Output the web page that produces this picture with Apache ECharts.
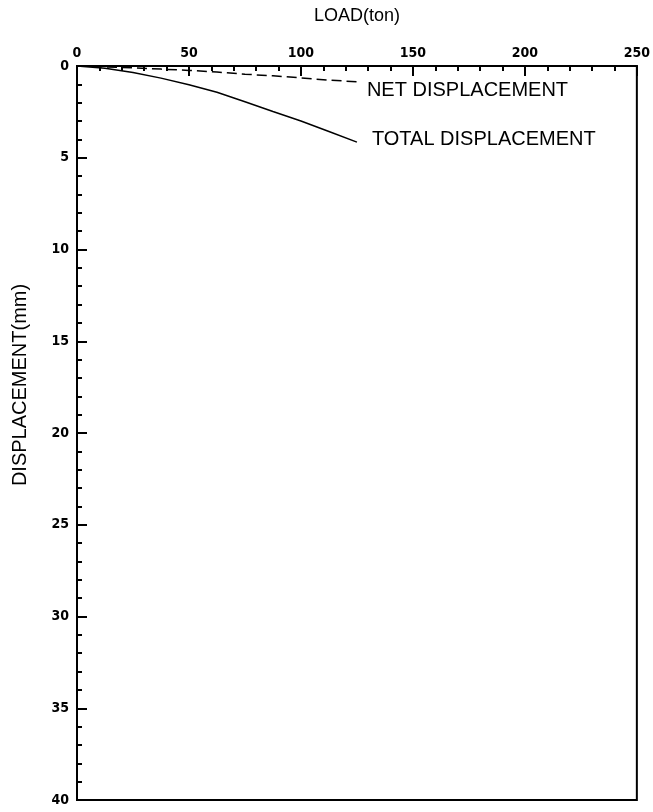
<!DOCTYPE html>
<html>
<head>
<meta charset="utf-8">
<script src="https://cdn.jsdelivr.net/npm/echarts@6/dist/echarts.min.js"></script>
<style>
html,body{margin:0;padding:0;background:#fff;}
#c{width:653px;height:812px;}
</style>
</head>
<body>
<div id="c"></div>
<script>
var loads = [0, 12.5, 25, 37.5, 50, 62.5, 75, 87.5, 100, 112.5, 125];
var totalDisp = [0, 0.12, 0.35, 0.66, 1.02, 1.43, 1.95, 2.48, 3.0, 3.57, 4.15];
var netDisp = [0, 0.05, 0.10, 0.17, 0.24, 0.33, 0.45, 0.53, 0.65, 0.77, 0.86];
var xTicks = [0, 50, 100, 150, 200, 250];
var yTicks = [0, 5, 10, 15, 20, 25, 30, 35, 40];

function pairs(xs, ys){ return xs.map(function(x,i){return [x, ys[i]];}); }

var tickFont = {fontFamily:'DejaVu Sans Condensed', fontWeight:'bold', fontSize:14, color:'#000'};
var labFont = 'Liberation Sans';

var chart = echarts.init(document.getElementById('c'), null, {renderer:'canvas'});
chart.setOption({
  backgroundColor:'#fff',
  animation:false,
  grid:{left:77, right:14, top:66, bottom:12, show:true, borderColor:'#000', borderWidth:2, containLabel:false},
  xAxis:{
    type:'value', position:'top', min:0, max:250, interval:50,
    name:'LOAD(ton)', nameLocation:'middle', nameGap:41,
    nameTextStyle:{fontFamily:labFont, fontSize:18, color:'#000'},
    axisLine:{lineStyle:{color:'#000', width:2}},
    axisTick:{inside:true, length:10, lineStyle:{color:'#000', width:2}},
    minorTick:{show:true, splitNumber:5, length:5, lineStyle:{color:'#000', width:2}},
    splitLine:{show:false},
    axisLabel:Object.assign({margin:6, formatter:function(v){return xTicks.indexOf(v)>=0? String(v):'';}}, tickFont)
  },
  yAxis:{
    type:'value', inverse:true, min:0, max:40, interval:5,
    axisLine:{lineStyle:{color:'#000', width:2}},
    axisTick:{inside:true, length:10, lineStyle:{color:'#000', width:2}},
    minorTick:{show:true, splitNumber:5, length:5, lineStyle:{color:'#000', width:2}},
    splitLine:{show:false},
    axisLabel:Object.assign({margin:8, formatter:function(v){return yTicks.indexOf(v)>=0? String(v):'';}}, tickFont)
  },
  graphic:[{
    type:'text', x:20, y:385, rotation:Math.PI/2,
    style:{text:'DISPLACEMENT(mm)', font:'20px "Liberation Sans"', fill:'#000', textAlign:'center', textVerticalAlign:'middle'}
  }],
  series:[{
    name:'TOTAL DISPLACEMENT', type:'line', data:pairs(loads,totalDisp),
    showSymbol:false, symbol:'none',
    lineStyle:{color:'#000', width:1.5},
    endLabel:{show:true, formatter:'{a}', fontFamily:labFont, fontSize:20, color:'#000', offset:[7,-3]}
  },{
    name:'NET DISPLACEMENT', type:'line', data:pairs(loads,netDisp),
    showSymbol:false, symbol:'none',
    lineStyle:{color:'#000', width:1.5, type:[10,5]},
    endLabel:{show:true, formatter:'{a}', fontFamily:labFont, fontSize:20, color:'#000', offset:[2,9]}
  }]
});
</script>
</body>
</html>
